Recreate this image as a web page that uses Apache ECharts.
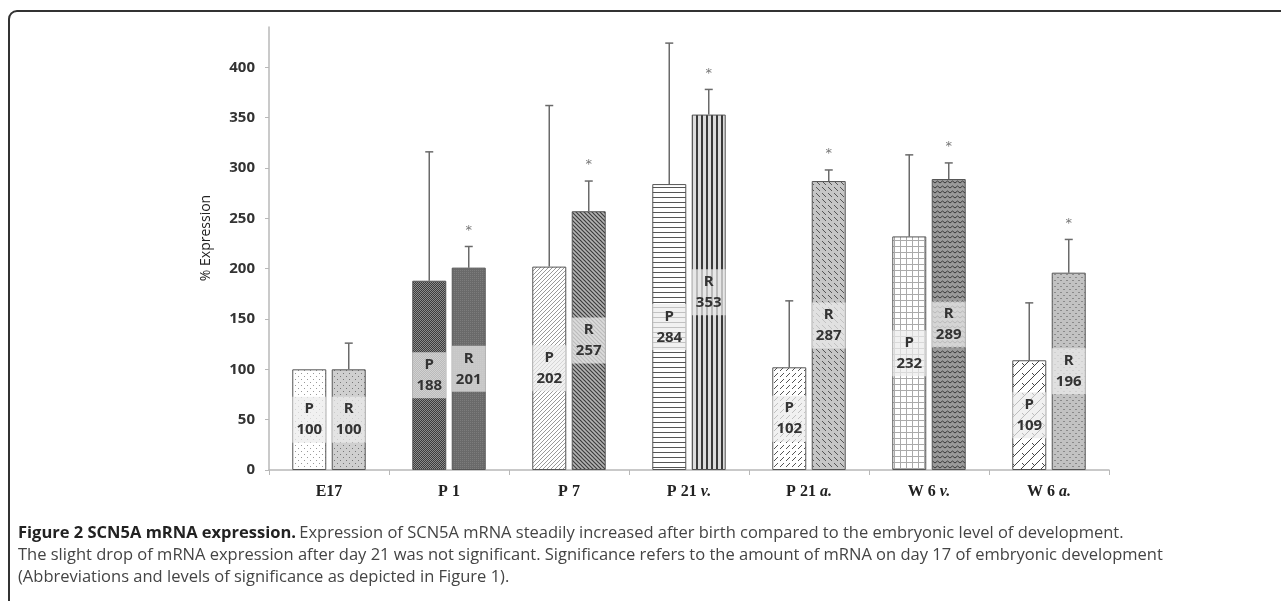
<!DOCTYPE html>
<html>
<head>
<meta charset="utf-8">
<script src="https://cdn.jsdelivr.net/npm/echarts@6/dist/echarts.min.js"></script>
<style>
  html, body { margin: 0; padding: 0; background: #fff; }
  #main { width: 1281px; height: 601px; }
</style>
</head>
<body>
<div id="main"></div>
<script>
  // data
  var categories = ['E17', 'P 1', 'P 7', 'P 21 v.', 'P 21 a.', 'W 6 v.', 'W 6 a.'];
  var pValues = [100, 188, 202, 284, 102, 232, 109];
  var rValues = [100, 201, 257, 353, 287, 289, 196];
  var pErrTop = [null, 316, 362, 424, 168, 313, 166];
  var rErrTop = [126, 222, 287, 378, 298, 305, 229];
  var rSignificant = [false, true, true, true, true, true, true];
  var yTicks = [0, 50, 100, 150, 200, 250, 300, 350, 400];

  // fill pattern for each bar
  var pPatterns = ['dotsSparse', 'checkDark', 'diagUp', 'hLines', 'dashUp', 'grid', 'brick'];
  var rPatterns = ['dotsGray', 'fineDark', 'diagDownDark', 'vLines', 'dashDownGray', 'zigzag', 'diamondGray'];

  function makePattern(kind) {
    var c = document.createElement('canvas');
    var s = 6;
    if (kind == 'checkDark' || kind == 'fineDark') s = 2;
    if (kind == 'hLines' || kind == 'vLines' || kind == 'zigzag') s = 5;
    if (kind == 'diagUp' || kind == 'diagDownDark') s = 4;
    if (kind == 'brick') s = 10;
    c.width = s; c.height = s;
    var g = c.getContext('2d');
    function bg(col) { g.fillStyle = col; g.fillRect(0, 0, s, s); }
    function line(x1, y1, x2, y2, col, w) {
      g.strokeStyle = col; g.lineWidth = w || 1;
      g.beginPath(); g.moveTo(x1, y1); g.lineTo(x2, y2); g.stroke();
    }
    switch (kind) {
      case 'dotsSparse':
        bg('#fff'); g.fillStyle = '#999';
        g.fillRect(1, 1, 1, 1); g.fillRect(4, 4, 1, 1);
        break;
      case 'dotsGray':
        bg('#cfcfcf'); g.fillStyle = '#777';
        g.fillRect(1, 1, 1, 1); g.fillRect(4, 4, 1, 1);
        break;
      case 'checkDark':
        bg('#3c3c3c'); g.fillStyle = '#8c8c8c';
        g.fillRect(0, 0, 1, 1); g.fillRect(1, 1, 1, 1);
        break;
      case 'fineDark':
        bg('#6a6a6a'); g.fillStyle = '#7c7c7c';
        g.fillRect(0, 0, 1, 1);
        break;
      case 'diagUp':
        bg('#fff');
        line(0, s, s, 0, '#999', 1); line(-1, 1, 1, -1, '#999', 1); line(s - 1, s + 1, s + 1, s - 1, '#999', 1);
        break;
      case 'diagDownDark':
        bg('#b4b4b4');
        line(0, 0, s, s, '#3c3c3c', 1.2); line(-1, s - 1, 1, s + 1, '#3c3c3c', 1.2); line(s - 1, -1, s + 1, 1, '#3c3c3c', 1.2);
        break;
      case 'hLines':
        bg('#fff'); g.fillStyle = '#555'; g.fillRect(0, 2, s, 1);
        break;
      case 'vLines':
        bg('#dcdcdc'); g.fillStyle = '#3a3a3a'; g.fillRect(1, 0, 2, s);
        break;
      case 'dashUp':
        bg('#fff'); line(0, 5, 4, 1, '#555', 1);
        break;
      case 'dashDownGray':
        bg('#c6c6c6'); line(0, 1, 4, 5, '#555', 1);
        break;
      case 'grid':
        bg('#fff'); g.fillStyle = '#aaa';
        g.fillRect(0, 0, s, 1); g.fillRect(0, 0, 1, s);
        break;
      case 'zigzag':
        bg('#9a9a9a');
        g.strokeStyle = '#3a3a3a'; g.lineWidth = 1;
        g.beginPath(); g.moveTo(0, 3); g.lineTo(2.5, 1); g.lineTo(5, 3); g.stroke();
        break;
      case 'brick':
        bg('#fff');
        line(0, s, s, 0, '#444', 1); line(-2, 2, 2, -2, '#444', 1); line(s - 2, s + 2, s + 2, s - 2, '#444', 1);
        line(2, 3, 5, 6, '#444', 1);
        break;
      case 'diamondGray':
        bg('#c2c2c2'); g.fillStyle = '#8a8a8a';
        g.fillRect(1, 1, 2, 1); g.fillRect(4, 4, 2, 1);
        break;
    }
    return { image: c, repeat: 'repeat' };
  }

  function barData(values, patterns) {
    return values.map(function (v, i) {
      return { value: v, itemStyle: { color: makePattern(patterns[i]) } };
    });
  }

  var barW = 34;
  var half = 19.75;

  function errData(tops, values) {
    var out = [];
    tops.forEach(function (t, i) {
      if (t != null) out.push([i, values[i], t]);
    });
    return out;
  }

  function errRender(offset) {
    return function (params, api) {
      var base = api.coord([api.value(0), api.value(1)]);
      var top = api.coord([api.value(0), api.value(2)]);
      var x = base[0] + offset;
      return {
        type: 'group',
        children: [
          { type: 'line', shape: { x1: x, y1: base[1], x2: x, y2: top[1] }, style: { stroke: '#6a6a6a', lineWidth: 1.5 } },
          { type: 'line', shape: { x1: x - 4, y1: top[1], x2: x + 4, y2: top[1] }, style: { stroke: '#6a6a6a', lineWidth: 1.5 } }
        ]
      };
    };
  }

  var starData = [];
  rErrTop.forEach(function (t, i) {
    if (rSignificant[i]) starData.push([i, t]);
  });

  var barLabel = {
    show: true,
    position: 'inside',
    formatter: '{a}\n{c}',
    fontFamily: 'Open Sans',
    fontWeight: 'bold',
    fontSize: 15,
    lineHeight: 21,
    color: '#333',
    width: barW,
    align: 'center',
    padding: [2, 0],
    backgroundColor: 'rgba(235,235,235,0.72)'
  };

  var chart = echarts.init(document.getElementById('main'));
  var option = {
    animation: false,
    grid: { left: 269, right: 172, top: 27, bottom: 131 },
    xAxis: {
      type: 'category',
      data: categories,
      axisLine: { lineStyle: { color: '#b8b8b8', width: 1.5 } },
      axisTick: { show: true, length: 5, lineStyle: { color: '#b8b8b8' } },
      axisLabel: {
        margin: 14,
        formatter: function (v) {
          var parts = v.split(' ');
          var last = parts[parts.length - 1];
          if (last == 'v.' || last == 'a.') {
            return '{b|' + parts.slice(0, -1).join(' ') + ' }{i|' + last + '}';
          }
          return '{b|' + v + '}';
        },
        rich: {
          b: { fontFamily: 'Liberation Serif', fontWeight: 'bold', fontSize: 16, color: '#222' },
          i: { fontFamily: 'Liberation Serif', fontWeight: 'bold', fontStyle: 'italic', fontSize: 16, color: '#222' }
        }
      }
    },
    yAxis: {
      type: 'value',
      min: 0,
      max: 440,
      interval: 50,
      axisLine: { show: true, lineStyle: { color: '#b8b8b8', width: 1.5 } },
      axisTick: { show: true, length: 4, lineStyle: { color: '#b8b8b8' } },
      splitLine: { show: false },
      axisLabel: {
        showMaxLabel: false,
        margin: 14,
        fontFamily: 'Open Sans',
        fontWeight: 'bold',
        fontSize: 15,
        color: '#333',
        formatter: function (v) { return yTicks.indexOf(v) >= 0 ? v : ''; }
      }
    },
    series: [
      {
        name: 'P', type: 'bar', barWidth: barW, barGap: '16%',
        data: barData(pValues, pPatterns),
        itemStyle: { borderColor: '#555', borderWidth: 1 },
        label: barLabel
      },
      {
        name: 'R', type: 'bar', barWidth: barW, barGap: '16%',
        data: barData(rValues, rPatterns),
        itemStyle: { borderColor: '#555', borderWidth: 1 },
        label: barLabel
      },
      {
        type: 'custom', data: errData(pErrTop, pValues), renderItem: errRender(-half), z: 1
      },
      {
        type: 'custom', data: errData(rErrTop, rValues), renderItem: errRender(half), z: 1
      },
      {
        type: 'custom',
        data: starData,
        renderItem: function (params, api) {
          var p = api.coord([api.value(0), api.value(1)]);
          return {
            type: 'text',
            style: { text: '*', x: p[0] + half, y: p[1] - 16, align: 'center', verticalAlign: 'middle', fontSize: 13, fontFamily: 'DejaVu Sans', fill: '#777' }
          };
        }
      }
    ],
    graphic: [
      {
        type: 'rect',
        shape: { x: 9, y: 11, width: 1400, height: 700, r: [8, 0, 0, 0] },
        style: { fill: null, stroke: '#333', lineWidth: 2 },
        silent: true
      },
      {
        type: 'text', x: 206, y: 238, rotation: Math.PI / 2,
        style: { text: '% Expression', font: '14px "Open Sans"', fill: '#222', align: 'center', verticalAlign: 'middle' }
      },
      {
        type: 'text', left: 18, top: 525,
        style: {
          text: '{b|Figure 2 SCN5A mRNA expression.} {r|Expression of SCN5A mRNA steadily increased after birth compared to the embryonic level of development.}',
          rich: {
            b: { fontFamily: 'Open Sans', fontWeight: 'bold', fontSize: 16.5, fill: '#222' },
            r: { fontFamily: 'Open Sans', fontSize: 16.5, fill: '#444' }
          }
        }
      },
      {
        type: 'text', left: 18, top: 547,
        style: {
          text: 'The slight drop of mRNA expression after day 21 was not significant. Significance refers to the amount of mRNA on day 17 of embryonic development',
          font: '16.5px "Open Sans"', fill: '#444'
        }
      },
      {
        type: 'text', left: 18, top: 569,
        style: {
          text: '(Abbreviations and levels of significance as depicted in Figure 1).',
          font: '16.5px "Open Sans"', fill: '#444'
        }
      }
    ]
  };
  chart.setOption(option);
</script>
</body>
</html>
